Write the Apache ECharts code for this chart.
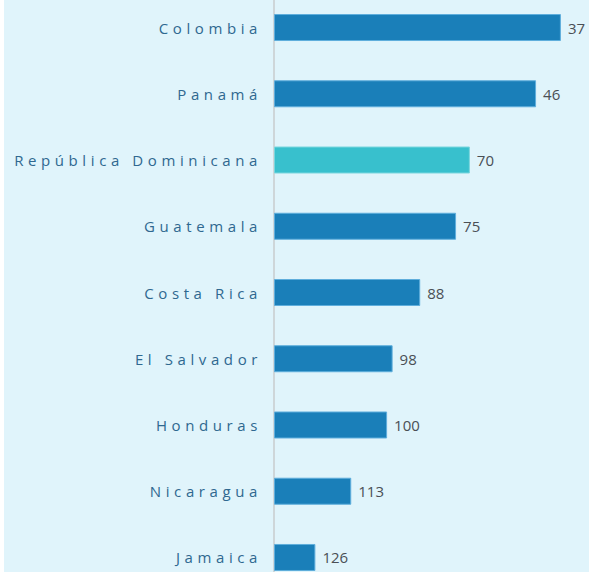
<!DOCTYPE html>
<html>
<head>
<meta charset="utf-8">
<script src="https://cdn.jsdelivr.net/npm/echarts@6/dist/echarts.min.js"></script>
<style>
  html, body { margin: 0; padding: 0; background: #ffffff; }
  #chart { position: absolute; left: 4px; top: 0; width: 585px; height: 572px; background: #E0F4FB; }
  #chart text[text-anchor="end"] { letter-spacing: 4.6px; }
</style>
</head>
<body>
<div id="chart"></div>
<script>
const categories = ['Colombia', 'Panamá', 'República Dominicana', 'Guatemala', 'Costa Rica', 'El Salvador', 'Honduras', 'Nicaragua', 'Jamaica'];
const ranks = [37, 46, 70, 75, 88, 98, 100, 113, 126];
const highlighted = ['República Dominicana'];
const rankCeiling = 141;

const chart = echarts.init(document.getElementById('chart'), null, { renderer: 'svg' });
chart.setOption({
  backgroundColor: 'transparent',
  animation: false,
  grid: { left: 270, right: 27, top: -5.6, bottom: -18.6, containLabel: false, outerBoundsMode: 'none' },
  xAxis: { type: 'value', min: 0, max: 104.4, show: false },
  yAxis: {
    type: 'category', inverse: true, data: categories,
    axisLine: { show: true, lineStyle: { color: '#c8ccce', width: 1.5 } },
    axisTick: { show: false },
    axisLabel: { color: '#2F6890', fontFamily: 'Open Sans', fontSize: 15, margin: 12, align: 'right' },
    splitLine: { show: false }
  },
  series: [{
    type: 'bar',
    barWidth: 27,
    data: ranks.map((r, i) => ({
      value: rankCeiling - r,
      rank: r,
      itemStyle: highlighted.includes(categories[i])
        ? { color: '#38C0CD', borderColor: '#7AD6DE', borderWidth: 1 }
        : { color: '#1A7FB9', borderColor: '#5FAEDC', borderWidth: 1 }
    })),
    label: {
      show: true, position: 'right', distance: 7, align: 'left',
      color: '#4a4f55', fontFamily: 'Open Sans', fontSize: 15,
      formatter: p => String(p.data.rank)
    }
  }]
});
</script>
</body>
</html>
